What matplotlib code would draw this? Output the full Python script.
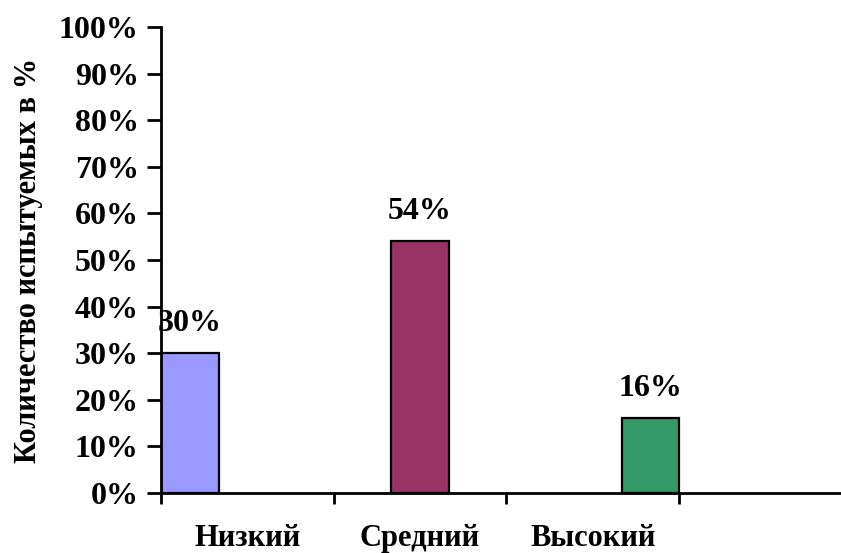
import numpy as np
import matplotlib
matplotlib.use("Agg")
import matplotlib.pyplot as plt
from matplotlib.ticker import PercentFormatter

# Data
categories = ["Низкий", "Средний", "Высокий", ""]
series_values = [30, 54, 16]          # one series per level, in its own category
series_colors = ["#9999FF", "#993366", "#339966"]
yticks = np.arange(0, 101, 10)

plt.rcParams['font.family'] = ['Liberation Serif', 'DejaVu Serif']
plt.rcParams['font.weight'] = 'bold'

fig = plt.figure(figsize=(8.41, 5.53), dpi=100)
ax = fig.add_axes([161 / 841, 1 - 493 / 553, 680 / 841, 466 / 553])

n_series = len(series_values)
width = 1.0 / n_series
x = np.arange(len(categories))

# clustered bars, gap width 0: series i only has a value in category i
for i, (val, col) in enumerate(zip(series_values, series_colors)):
    pos = x[i] - 0.5 + width * (i + 0.5)
    ax.bar(pos, val, width=width, color=col, edgecolor='black', linewidth=1.6)
    ax.annotate(f"{val}%", (pos, val), xytext=(0, 11), textcoords='offset points',
                ha='center', va='bottom', fontsize=23, fontweight='bold')

ax.set_yticks(yticks)
ax.yaxis.set_major_formatter(PercentFormatter(decimals=0))

# category boundaries as ticks, labels in between
ax.set_xticks(np.arange(-0.5, len(categories), 1.0))
ax.set_xticklabels([])
ax.set_xticks(x[:3], categories[:3], minor=True)
ax.tick_params(axis='x', which='minor', length=0, pad=22, labelsize=22)
ax.tick_params(axis='x', which='major', length=8, width=2, direction='out')
ax.tick_params(axis='y', length=10, width=2, direction='out', labelsize=23, pad=6)

ax.set_ylim(0, 100)
ax.set_xlim(-0.5, -0.5 + 680 / 172.7)

for s in ['top', 'right']:
    ax.spines[s].set_visible(False)
for s in ['left', 'bottom']:
    ax.spines[s].set_linewidth(2)

for lbl in ax.get_yticklabels() + ax.get_xticklabels(minor=True):
    lbl.set_fontweight('bold')

ax.set_ylabel("Количество испытуемых в %", fontsize=22, fontweight='bold')
ax.yaxis.set_label_coords(-118 / 680, 0.5)

fig.savefig("out.png", dpi=100)
